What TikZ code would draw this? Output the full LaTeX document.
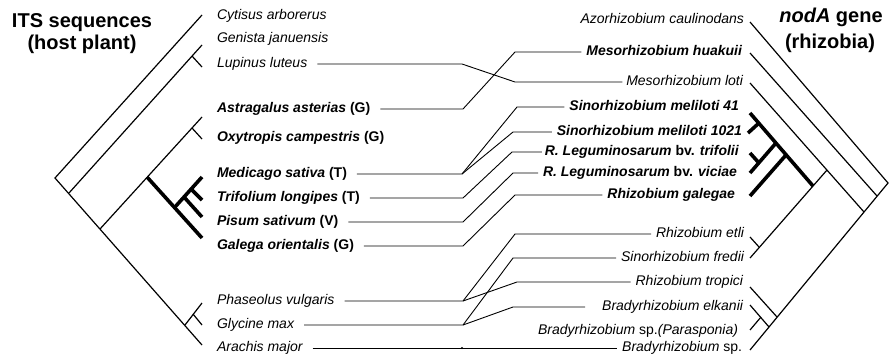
\documentclass[tikz,border=0pt]{standalone}
\usepackage{fontspec}
\setmainfont{Liberation Sans}
\begin{document}
\begin{tikzpicture}[x=1pt,y=-1pt,
  br/.style={line width=1.2pt},
  thk/.style={line width=3.6pt},
  cn/.style={line width=0.9pt},
  lab/.style={font=\fontsize{14}{16}\selectfont, inner sep=0pt, outer sep=0pt,
              text height=10pt, text depth=3pt},
  lft/.style={lab, anchor=west},
  rgt/.style={lab, anchor=east},
  ttl/.style={font=\fontsize{20}{24}\selectfont\bfseries, inner sep=0pt, anchor=base}]
\useasboundingbox (0,0) rectangle (890,356);

% titles
\node[ttl] (tl1) at (82,27) {ITS sequences};
\node[ttl] (tl2) at (82,49) {(host plant)};
\node[ttl] (tr1) at (831,22) {\textit{nodA} gene};
\node[ttl] (tr2) at (830,48) {(rhizobia)};

% host plant labels
\node[lft] (cyt) at (217,16)  {\itshape Cytisus arborerus};
\node[lft] (gen) at (217,39)  {\itshape Genista januensis};
\node[lft] (lup) at (217,64)  {\itshape Lupinus luteus};
\node[lft] (ast) at (217,109) {\bfseries\textit{Astragalus asterias} (G)};
\node[lft] (oxy) at (217,138) {\bfseries\textit{Oxytropis campestris} (G)};
\node[lft] (med) at (217,174) {\bfseries\textit{Medicago sativa} (T)};
\node[lft] (tri) at (217,198) {\bfseries\textit{Trifolium longipes} (T)};
\node[lft] (pis) at (217,222) {\bfseries\textit{Pisum sativum} (V)};
\node[lft] (gal) at (217,246) {\bfseries\textit{Galega orientalis} (G)};
\node[lft] (pha) at (217,301) {\itshape Phaseolus vulgaris};
\node[lft] (gly) at (217,325) {\itshape Glycine max};
\node[lft] (ara) at (217,348) {\itshape Arachis major};

% rhizobia labels
\node[rgt] (azo) at (744,20)  {\itshape Azorhizobium caulinodans};
\node[rgt] (hua) at (742,52)  {\bfseries\itshape Mesorhizobium huakuii};
\node[rgt] (lot) at (743,82)  {\itshape Mesorhizobium loti};
\node[rgt] (m41) at (739,107) {\bfseries\itshape Sinorhizobium meliloti 41};
\node[rgt] (m21) at (742,132) {\bfseries\itshape Sinorhizobium meliloti 1021};
\node[rgt] (rlt) at (739,152) {\bfseries\textit{R. Leguminosarum} bv. \textit{trifolii}};
\node[rgt] (rlv) at (737,173) {\bfseries\textit{R. Leguminosarum} bv. \textit{viciae}};
\node[rgt] (rga) at (735,195) {\bfseries\itshape Rhizobium galegae};
\node[rgt] (ret) at (744,234) {\itshape Rhizobium etli};
\node[rgt] (sfr) at (744,258) {\itshape Sinorhizobium fredii};
\node[rgt] (rtr) at (743,282) {\itshape Rhizobium tropici};
\node[rgt] (bel) at (743,307) {\itshape Bradyrhizobium elkanii};
\node[rgt] (bpa) at (738,331) {\textit{Bradyrhizobium} sp.\textit{(Parasponia)}};
\node[rgt] (bsp) at (742,348) {\textit{Bradyrhizobium} sp.};

% ITS tree
\draw[br] (202,15) -- (55,178) -- (202,345);
\draw[br] (69,193) -- (202,45);
\draw[br] (192,56) -- (202,67);
\draw[br] (100,229) -- (202,117);
\draw[br] (192,128) -- (202,139);
\draw[thk] (147,177) -- (202,238);
\draw[thk] (175,207) -- (202,177);
\draw[thk] (191,189) -- (202,200);
\draw[thk] (184,197) -- (202,217);
\draw[br] (185,325) -- (202,303);
\draw[br] (193,314) -- (202,325);

% nodA tree
\draw[br] (750,22) -- (888,183) -- (750,350);
\draw[br] (750,53) -- (877,196);
\draw[br] (750,83) -- (864,212);
\draw[br] (750,258) -- (827,170);
\draw[br] (750,237) -- (759,247);
\draw[br] (750,287) -- (777,317);
\draw[br] (750,305) -- (769,327);
\draw[br] (750,330) -- (761,317);
\draw[thk] (750,113) -- (813,186);
\draw[thk] (750,196) -- (786,155);
\draw[thk] (748,133) -- (759,123);
\draw[thk] (750,173) -- (776,143);
\draw[thk] (750,153) -- (759,163);

% host--symbiont links
\draw[cn] ([xshift=10pt]lup.east) -- (462,64) -- (515,82) -- ([xshift=-4pt]lot.west);
\draw[cn] ([xshift=10pt]ast.east) -- (463,109) -- (515,52) -- ([xshift=-5pt]hua.west);
\draw[cn] ([xshift=10pt]med.east) -- (462,174) -- (517,107) -- ([xshift=-5pt]m41.west);
\draw[cn] (462,174) -- (513,132) -- ([xshift=-5pt]m21.west);
\draw[cn] ([xshift=10pt]tri.east) -- (463,198) -- (512,152) -- ([xshift=-3pt]rlt.west);
\draw[cn] ([xshift=10pt]pis.east) -- (463,222) -- (513,173) -- ([xshift=-5pt]rlv.west);
\draw[cn] ([xshift=10pt]gal.east) -- (463,246) -- (515,195) -- ([xshift=-5pt]rga.west);
\draw[cn] ([xshift=10pt]pha.east) -- (463,301) -- (515,234) -- ([xshift=-5pt]ret.west);
\draw[cn] (463,301) -- (517,282) -- ([xshift=-5pt]rtr.west);
\draw[cn] ([xshift=10pt]gly.east) -- (463,325) -- (513,258) -- ([xshift=-5pt]sfr.west);
\draw[cn] (463,325) -- (513,307) -- (585,307);
\draw[cn] ([xshift=10pt]ara.east) -- ([xshift=-5pt]bsp.west);
\fill (462,348) circle (1.2);
\end{tikzpicture}
\end{document}
